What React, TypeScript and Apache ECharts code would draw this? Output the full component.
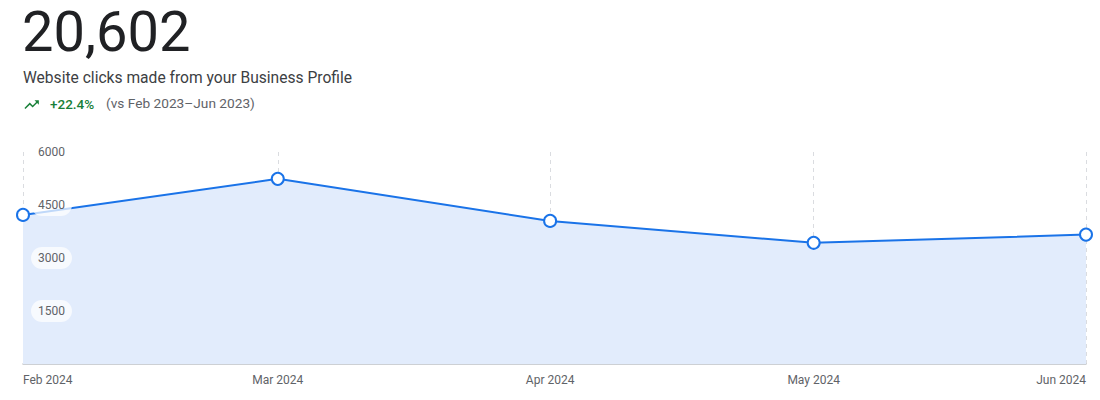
import React, { useEffect, useRef } from "react";
import * as echarts from "echarts";

const months: string[] = ["2024-02-01", "2024-03-01", "2024-04-01", "2024-05-01", "2024-06-01"];
const clicks: number[] = [4220, 5240, 4050, 3430, 3662];
const yTicks: number[] = [0, 1500, 3000, 4500, 6000];
const headline = "20,602";
const subtitle = "Website clicks made from your Business Profile";
const change = "+22.4%";
const comparison = "(vs Feb 2023\u2013Jun 2023)";

const trendPath = "M16 6l2.29 2.29-4.88 4.88-4-4L2 16.59 3.41 18l6-6 4 4 6.3-6.29L22 12V6z";

export default function App() {
  const ref = useRef<HTMLDivElement>(null);
  useEffect(() => {
    if (!ref.current) return;
    try {
      echarts.graphic.registerShape("trendUp", echarts.graphic.extendPath(trendPath, {}));
    } catch (e) {}
    const chart = echarts.init(ref.current, null, { renderer: "svg" });
    const font = "Roboto, 'Noto Sans', Arial, sans-serif";
    chart.setOption({
      animation: false,
      textStyle: { fontFamily: font },
      grid: { left: 23, right: 14, top: 152, bottom: 36, containLabel: false, outerBoundsMode: "none" },
      graphic: [
        {
          type: "text",
          left: 22,
          top: 4,
          style: { text: headline, font: `400 56px ${font}`, fill: "#202124" },
        },
        {
          type: "text",
          left: 23,
          top: 70,
          style: { text: subtitle, font: `400 15.6px ${font}`, fill: "#3c4043" },
        },
        {
          type: "trendUp",
          x: 23,
          y: 96,
          scaleX: 0.72,
          scaleY: 0.72,
          style: { fill: "#188038" },
        },
        {
          type: "text",
          left: 50,
          top: 97,
          style: { text: change, font: `500 13.5px ${font}`, fill: "#188038" },
        },
        {
          type: "text",
          left: 106,
          top: 96,
          style: { text: comparison, font: `400 13.7px ${font}`, fill: "#5f6368" },
        },
      ],
      xAxis: {
        type: "time",
        min: months[0],
        max: months[months.length - 1],
        axisLine: { show: true, lineStyle: { color: "#bdc1c6", width: 1.5 } },
        axisTick: { show: false },
        splitLine: { show: true, lineStyle: { color: "#dadce0", type: [4, 4], width: 1 } },
        axisLabel: {
          formatter: "{MMM} {yyyy}",
          color: "#5f6368",
          fontSize: 12,
          margin: 10,
          showMinLabel: true,
          showMaxLabel: true,
          alignMinLabel: "left",
          alignMaxLabel: "right",
          hideOverlap: false,
        },
      },
      yAxis: {
        type: "value",
        min: yTicks[0],
        max: yTicks[yTicks.length - 1],
        interval: 1500,
        z: 10,
        axisLine: { show: false },
        axisTick: { show: false },
        splitLine: { show: false },
        axisLabel: {
          inside: true,
          margin: 8,
          showMinLabel: false,
          color: "#5f6368",
          fontSize: 12,
          lineHeight: 12,
          backgroundColor: "rgba(255,255,255,0.72)",
          borderRadius: 11,
          padding: [5, 7],
          formatter: (v: number) => String(v),
        },
      },
      series: [
        {
          type: "line",
          data: months.map((m, i) => [m, clicks[i]]),
          symbol: "circle",
          symbolSize: 12,
          showAllSymbol: true,
          lineStyle: { color: "#1a73e8", width: 2 },
          itemStyle: { color: "#ffffff", borderColor: "#1a73e8", borderWidth: 2 },
          areaStyle: { color: "#e2ecfc", opacity: 1 },
          z: 2,
        },
      ],
    });
    return () => chart.dispose();
  }, []);
  return (
    <div
      ref={ref}
      style={{ position: "absolute", left: 0, top: 0, width: 1100, height: 400, background: "#fff" }}
    />
  );
}
